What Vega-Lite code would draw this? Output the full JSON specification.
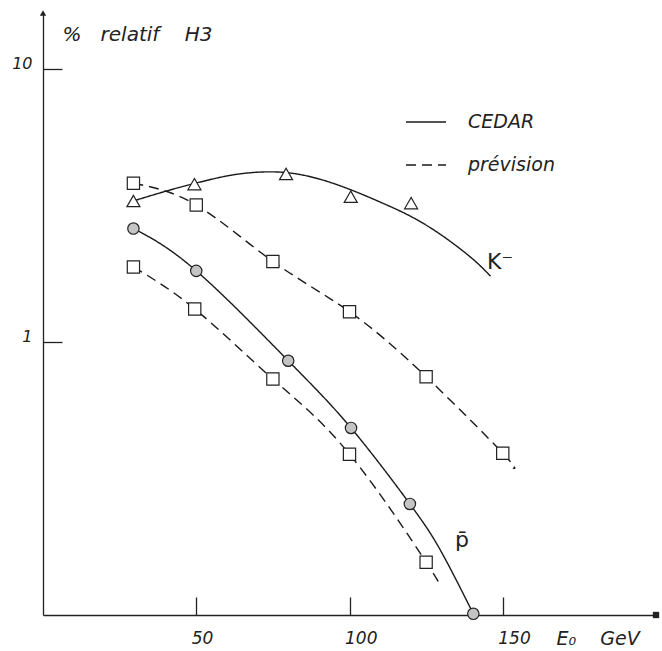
{
  "$schema": "https://vega.github.io/schema/vega-lite/v6.json",
  "width": 613,
  "height": 602,
  "autosize": {"type": "none"},
  "padding": {"left": 43, "top": 13, "right": 6, "bottom": 36},
  "background": "white",
  "config": {
    "view": {"stroke": null},
    "font": "DejaVu Sans",
    "axis": {
      "grid": false,
      "domainColor": "#222",
      "domainWidth": 1.3,
      "tickColor": "#222",
      "tickWidth": 1.3,
      "labelFont": "DejaVu Sans",
      "labelFontStyle": "italic",
      "labelFontSize": 16,
      "labelColor": "#222",
      "titleFont": "DejaVu Sans",
      "titleFontStyle": "italic",
      "titleFontWeight": "normal",
      "titleFontSize": 19,
      "titleColor": "#222"
    }
  },
  "datasets": {
    "curves": [
      {"series": "K CEDAR", "kind": "CEDAR", "x": 29.5, "y": 3.28},
      {"series": "K CEDAR", "kind": "CEDAR", "x": 40, "y": 3.56},
      {"series": "K CEDAR", "kind": "CEDAR", "x": 49.4, "y": 3.8},
      {"series": "K CEDAR", "kind": "CEDAR", "x": 60, "y": 4.05},
      {"series": "K CEDAR", "kind": "CEDAR", "x": 70, "y": 4.18},
      {"series": "K CEDAR", "kind": "CEDAR", "x": 80, "y": 4.16},
      {"series": "K CEDAR", "kind": "CEDAR", "x": 90, "y": 3.95},
      {"series": "K CEDAR", "kind": "CEDAR", "x": 100, "y": 3.62},
      {"series": "K CEDAR", "kind": "CEDAR", "x": 110, "y": 3.25},
      {"series": "K CEDAR", "kind": "CEDAR", "x": 120, "y": 2.88},
      {"series": "K CEDAR", "kind": "CEDAR", "x": 130, "y": 2.46},
      {"series": "K CEDAR", "kind": "CEDAR", "x": 140, "y": 2.02},
      {"series": "K CEDAR", "kind": "CEDAR", "x": 146, "y": 1.74},
      {"series": "K prévision", "kind": "prévision", "x": 29.5, "y": 3.81},
      {"series": "K prévision", "kind": "prévision", "x": 50, "y": 3.17},
      {"series": "K prévision", "kind": "prévision", "x": 75, "y": 1.97},
      {"series": "K prévision", "kind": "prévision", "x": 100, "y": 1.29},
      {"series": "K prévision", "kind": "prévision", "x": 125, "y": 0.745},
      {"series": "K prévision", "kind": "prévision", "x": 150, "y": 0.391},
      {"series": "K prévision", "kind": "prévision", "x": 153.3, "y": 0.345},
      {"series": "p CEDAR", "kind": "CEDAR", "x": 29.5, "y": 2.6},
      {"series": "p CEDAR", "kind": "CEDAR", "x": 50, "y": 1.82},
      {"series": "p CEDAR", "kind": "CEDAR", "x": 80, "y": 0.853},
      {"series": "p CEDAR", "kind": "CEDAR", "x": 100.5, "y": 0.484},
      {"series": "p CEDAR", "kind": "CEDAR", "x": 119.7, "y": 0.255},
      {"series": "p CEDAR", "kind": "CEDAR", "x": 130, "y": 0.17},
      {"series": "p CEDAR", "kind": "CEDAR", "x": 140.4, "y": 0.101},
      {"series": "p prévision", "kind": "prévision", "x": 29.5, "y": 1.88},
      {"series": "p prévision", "kind": "prévision", "x": 49.5, "y": 1.32},
      {"series": "p prévision", "kind": "prévision", "x": 75, "y": 0.731},
      {"series": "p prévision", "kind": "prévision", "x": 100, "y": 0.388},
      {"series": "p prévision", "kind": "prévision", "x": 125, "y": 0.156},
      {"series": "p prévision", "kind": "prévision", "x": 128.4, "y": 0.134}
    ],
    "points": [
      {"marker": "triangle", "x": 29.5, "y": 3.28},
      {"marker": "triangle", "x": 49.4, "y": 3.78},
      {"marker": "triangle", "x": 79.3, "y": 4.12},
      {"marker": "triangle", "x": 100.4, "y": 3.4},
      {"marker": "triangle", "x": 120.1, "y": 3.22},
      {"marker": "square", "x": 29.5, "y": 3.81},
      {"marker": "square", "x": 50, "y": 3.17},
      {"marker": "square", "x": 75, "y": 1.97},
      {"marker": "square", "x": 100, "y": 1.29},
      {"marker": "square", "x": 125, "y": 0.745},
      {"marker": "square", "x": 150, "y": 0.391},
      {"marker": "square", "x": 29.5, "y": 1.88},
      {"marker": "square", "x": 49.5, "y": 1.32},
      {"marker": "square", "x": 75, "y": 0.731},
      {"marker": "square", "x": 100, "y": 0.388},
      {"marker": "square", "x": 125, "y": 0.156},
      {"marker": "circle", "x": 29.5, "y": 2.6},
      {"marker": "circle", "x": 50, "y": 1.82},
      {"marker": "circle", "x": 80, "y": 0.853},
      {"marker": "circle", "x": 100.5, "y": 0.484},
      {"marker": "circle", "x": 119.7, "y": 0.255},
      {"marker": "circle", "x": 140.4, "y": 0.101}
    ],
    "labels": [
      {"label": "K⁻", "x": 149.1, "y": 1.96},
      {"label": "p̄", "x": 136.7, "y": 0.188}
    ],
    "arrows": [
      {"dir": "up", "x": 0, "y": 16},
      {"dir": "right", "x": 200, "y": 0.1}
    ]
  },
  "encoding": {
    "x": {
      "field": "x",
      "type": "quantitative",
      "scale": {"domain": [0, 200], "nice": false, "zero": false},
      "axis": {
        "values": [50, 100, 150],
        "tickSize": -18,
        "labelPadding": 33,
        "labelAngle": 0,
        "labelAlign": "left",
        "labelOffset": -5,
        "labelFontSize": 17,
        "labelFlush": false,
        "labelOverlap": false,
        "title": "E₀\u00a0\u00a0\u00a0\u00a0GeV",
        "titleAlign": "left",
        "titleAnchor": "start",
        "titleX": 513,
        "titleY": 29,
        "titleBaseline": "alphabetic"
      }
    },
    "y": {
      "field": "y",
      "type": "quantitative",
      "scale": {"type": "log", "domain": [0.1, 16], "nice": false},
      "axis": {
        "values": [1, 10],
        "format": "~g",
        "tickSize": -19,
        "labelPadding": 30,
        "labelBaseline": "alphabetic",
        "title": "%\u00a0\u00a0\u00a0relatif\u00a0\u00a0\u00a0\u00a0H3",
        "titleFontSize": 20,
        "titleAngle": 0,
        "titleAlign": "left",
        "titleAnchor": "start",
        "titleX": 19,
        "titleY": 27,
        "titleBaseline": "alphabetic"
      }
    }
  },
  "layer": [
    {
      "data": {"name": "curves"},
      "mark": {"type": "line", "interpolate": "natural", "strokeWidth": 1.4, "color": "#1a1a1a"},
      "encoding": {
        "detail": {"field": "series", "type": "nominal"},
        "strokeDash": {
          "field": "kind",
          "type": "nominal",
          "scale": {"domain": ["CEDAR", "prévision"], "range": [[1, 0], [10, 6]]},
          "legend": {
            "title": null,
            "orient": "none",
            "legendX": 362,
            "legendY": 88,
            "symbolType": "stroke",
            "symbolSize": 1600,
            "symbolStrokeWidth": 1.4,
            "symbolStrokeColor": "#1a1a1a",
            "labelFont": "DejaVu Sans",
            "labelFontStyle": "italic",
            "labelFontSize": 19,
            "labelColor": "#222",
            "labelOffset": 21,
            "rowPadding": 12
          }
        }
      }
    },
    {
      "data": {"name": "points"},
      "mark": {"type": "point", "filled": true, "opacity": 1, "stroke": "#222", "strokeWidth": 1.2},
      "encoding": {
        "shape": {
          "field": "marker",
          "type": "nominal",
          "scale": {"domain": ["triangle", "square", "circle"], "range": ["triangle-up", "square", "circle"]},
          "legend": null
        },
        "fill": {
          "field": "marker",
          "type": "nominal",
          "scale": {"domain": ["triangle", "square", "circle"], "range": ["white", "white", "#c4c4c4"]},
          "legend": null
        },
        "size": {
          "field": "marker",
          "type": "nominal",
          "scale": {"domain": ["triangle", "square", "circle"], "range": [170, 130, 160]},
          "legend": null
        }
      }
    },
    {
      "data": {"name": "labels"},
      "mark": {"type": "text", "font": "DejaVu Sans", "fontSize": 22, "color": "#222", "baseline": "middle", "align": "center"},
      "encoding": {
        "text": {"field": "label", "type": "nominal"}
      }
    },
    {
      "data": {"name": "arrows"},
      "mark": {"type": "point", "filled": true, "opacity": 1, "color": "#222", "size": 40},
      "encoding": {
        "shape": {
          "field": "dir",
          "type": "nominal",
          "scale": {"domain": ["up", "right"], "range": ["triangle-up", "triangle-right"]},
          "legend": null
        }
      }
    }
  ]
}
